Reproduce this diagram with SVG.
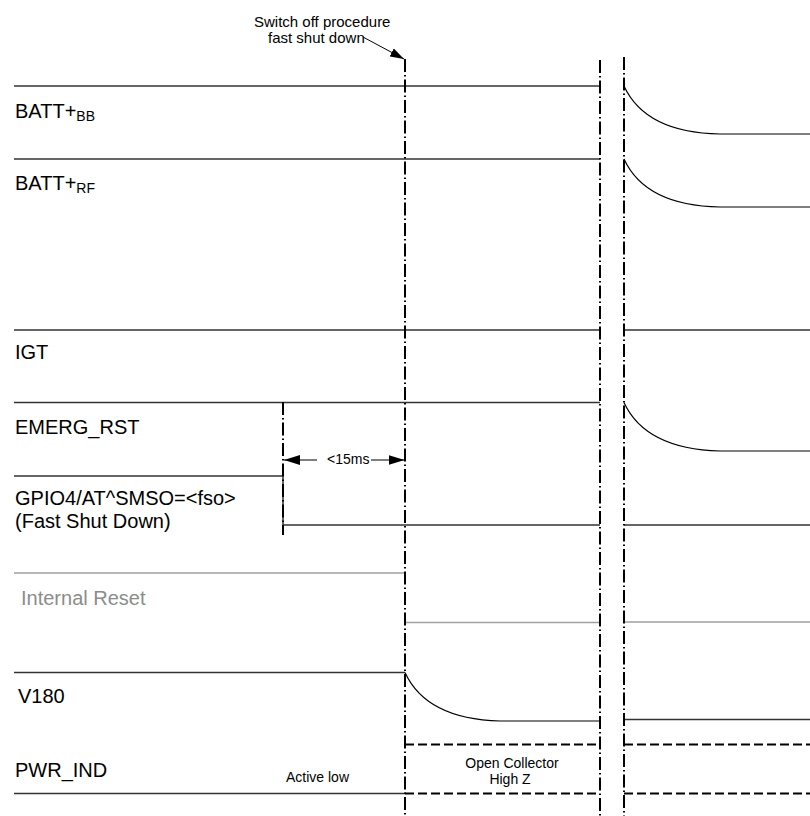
<svg xmlns="http://www.w3.org/2000/svg" width="810" height="816" viewBox="0 0 810 816">
<defs>
<style>
text{font-family:"Liberation Sans",Arial,sans-serif;fill:#000}
.lbl{font-size:20px}
.sm{font-size:14px}
.sig{stroke:#333;stroke-width:1.5;fill:none}
.crv{stroke:#000;stroke-width:1.2;fill:none}
.gry{stroke:#a0a0a0;stroke-width:1.5;fill:none}
.dsh{stroke:#000;stroke-width:2;fill:none;stroke-dasharray:9 4}
.dd{stroke:#000;stroke-width:2;fill:none;stroke-dasharray:13 3 1.5 3}
.arr{stroke:#000;stroke-width:1;fill:none}
</style>
<marker id="ah" viewBox="0 0 16 10" refX="16" refY="5" markerWidth="16" markerHeight="10" markerUnits="userSpaceOnUse" orient="auto-start-reverse">
<path d="M0,0 L16,5 L0,10 z" fill="#000"/>
</marker>
<marker id="ah2" viewBox="0 0 14 9" refX="14" refY="4.5" markerWidth="14" markerHeight="9" markerUnits="userSpaceOnUse" orient="auto">
<path d="M0,0 L14,4.5 L0,9 z" fill="#000"/>
</marker>
</defs>
<rect width="810" height="816" fill="#fff"/>

<g id="batt-bb">
<path class="sig" d="M14,86 H600"/>
<path class="crv" d="M624,86 C636,112 662,133 720,134 H810"/>
<text class="lbl" x="15" y="118">BATT+<tspan font-size="14" dy="3">BB</tspan></text>
</g>
<g id="batt-rf">
<path class="sig" d="M14,159 H600"/>
<path class="crv" d="M624,159 C636,185 662,206 720,207 H810"/>
<text class="lbl" x="15" y="190">BATT+<tspan font-size="14" dy="3">RF</tspan></text>
</g>
<g id="igt">
<path class="sig" d="M14,330 H600 M624,330 H810"/>
<text class="lbl" x="15" y="359">IGT</text>
</g>
<g id="emerg-rst">
<path class="sig" d="M14,402.5 H600"/>
<path class="crv" d="M624,402.5 C636,428.5 662,449.5 720,451 H810"/>
<text class="lbl" x="15" y="434">EMERG_RST</text>
</g>
<g id="gpio4">
<path class="sig" d="M14,476 H283 V525 H600 M624,525 H810"/>
<text class="lbl" x="15" y="505">GPIO4/AT^SMSO=&lt;fso&gt;</text>
<text class="lbl" x="15" y="528">(Fast Shut Down)</text>
</g>
<g id="internal-reset">
<path class="gry" d="M14,573 H405 M405,622.5 H600 M624,622 H810"/>
<text class="lbl" x="21" y="605" style="fill:#8c8c8c">Internal Reset</text>
</g>
<g id="v180">
<path class="sig" d="M14,672.5 H405"/>
<path class="crv" d="M405,672.5 C417,698.5 443,719.5 500,721 H600"/>
<path class="sig" d="M624,719.5 H810"/>
<text class="lbl" x="18" y="703">V180</text>
</g>
<g id="pwr-ind">
<path class="sig" d="M14,793.5 H405"/>
<path class="dsh" d="M405,744.5 H600 M405,793.5 H600 M624,744.5 H810 M624,793.5 H810"/>
<text class="lbl" x="15" y="777">PWR_IND</text>
<text class="sm" x="286" y="782">Active low</text>
<text class="sm" x="512" y="768" text-anchor="middle">Open Collector</text>
<text class="sm" x="510" y="784" text-anchor="middle">High Z</text>
</g>

<g id="connectors">
<path class="dd" d="M405,59 V816"/>
<path class="dd" d="M600,60 V816"/>
<path class="dd" d="M624,57 V816"/>
<path class="dd" d="M283,402 V535"/>
<path class="arr" d="M363,37 L404,59" marker-end="url(#ah2)"/>
<path class="arr" d="M300,460 H317 M371,460 H388"/>
<path class="arr" d="M300,460 L284,460" marker-end="url(#ah)"/>
<path class="arr" d="M388,460 L404.5,460" marker-end="url(#ah)"/>
<text x="254" y="27" style="font-size:15px">Switch off procedure</text>
<text x="268" y="43" style="font-size:15px">fast shut down</text>
<text class="sm" x="327" y="464">&lt;15ms</text>
</g>
</svg>
